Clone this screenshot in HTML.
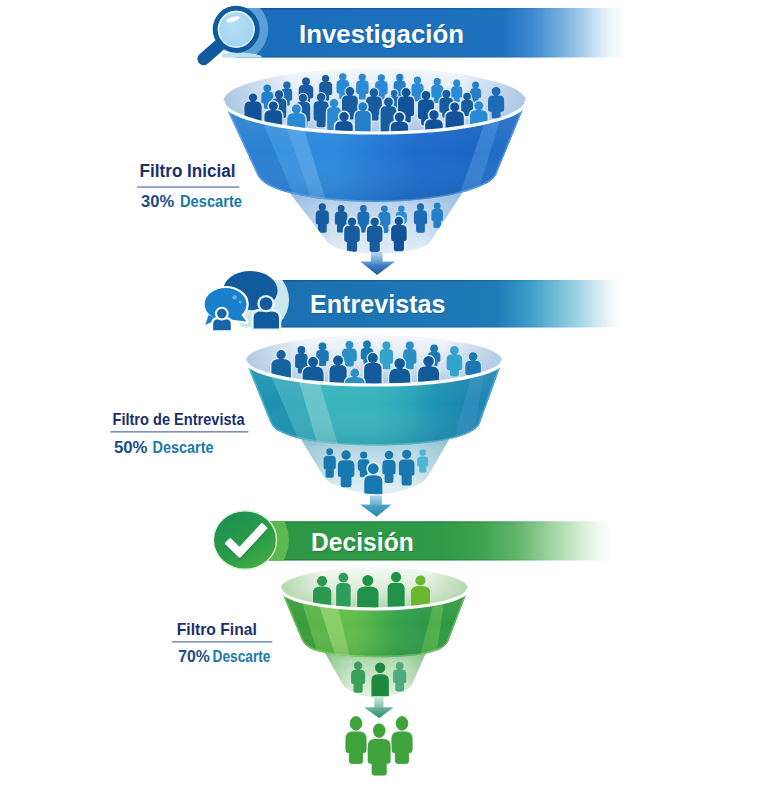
<!DOCTYPE html>
<html lang="es">
<head>
<meta charset="utf-8">
<title>Embudo de contratación</title>
<style>html,body{margin:0;padding:0;background:#fff;}body{width:768px;height:790px;overflow:hidden;font-family:"Liberation Sans",sans-serif;}svg{display:block;}</style>
</head>
<body>
<svg width="768" height="790" viewBox="0 0 768 790" font-family="'Liberation Sans', sans-serif">
<defs><linearGradient id="bedge" x1="0" y1="0" x2="1" y2="0"><stop offset="0" stop-color="#06305e" stop-opacity="0.3"/><stop offset="0.55" stop-color="#06305e" stop-opacity="0.25"/><stop offset="0.85" stop-color="#06305e" stop-opacity="0"/></linearGradient><linearGradient id="bedge3" x1="0" y1="0" x2="1" y2="0"><stop offset="0" stop-color="#0a4a1a" stop-opacity="0.3"/><stop offset="0.55" stop-color="#0a4a1a" stop-opacity="0.25"/><stop offset="0.85" stop-color="#0a4a1a" stop-opacity="0"/></linearGradient><linearGradient id="b1" gradientUnits="userSpaceOnUse" x1="246" y1="0" x2="626" y2="0"><stop offset="0.0" stop-color="#1a6db8"/><stop offset="0.676" stop-color="#1e72bd"/><stop offset="0.755" stop-color="#3d8ad0"/><stop offset="0.863" stop-color="#8fbfe6"/><stop offset="0.937" stop-color="#dcebf7"/><stop offset="0.968" stop-color="#f2f8fc"/><stop offset="1.0" stop-color="#ffffff"/></linearGradient><clipPath id="cban1"><rect x="222" y="8" width="420" height="49.5"/></clipPath><clipPath id="cban1b"><rect x="238" y="8" width="420" height="49.5"/></clipPath><radialGradient id="glass" cx="0.45" cy="0.40" r="0.75"><stop offset="0" stop-color="#b4def5"/><stop offset="1" stop-color="#9dd0ef"/></radialGradient><linearGradient id="fi1" x1="0" y1="0" x2="0" y2="1"><stop offset="0" stop-color="#f3f7fb"/><stop offset="0.55" stop-color="#dbe6f1"/><stop offset="1" stop-color="#a9c6e3"/></linearGradient><linearGradient id="fs1" x1="0" y1="0" x2="1" y2="0"><stop offset="0" stop-color="#a9c6e3" stop-opacity="0.95"/><stop offset="0.22" stop-color="#a9c6e3" stop-opacity="0"/><stop offset="0.78" stop-color="#a9c6e3" stop-opacity="0"/><stop offset="1" stop-color="#a9c6e3" stop-opacity="0.95"/></linearGradient><clipPath id="ci1"><ellipse cx="374.7" cy="100.6" rx="150.7" ry="31.4"/></clipPath><linearGradient id="fc1" x1="0" y1="0" x2="0" y2="1"><stop offset="0" stop-color="#8db6df"/><stop offset="0.3" stop-color="#bdd4eb"/><stop offset="1" stop-color="#e3edf7"/></linearGradient><clipPath id="cc1"><path d="M283,184L327.5,242Q332,248 346,250.5Q377,257 410,250.5Q424,248 429.5,243L468,184Z"/></clipPath><linearGradient id="fe1" gradientUnits="userSpaceOnUse" x1="296" y1="0" x2="460" y2="0"><stop offset="0" stop-color="#8db6df" stop-opacity="0.55"/><stop offset="0.22" stop-color="#8db6df" stop-opacity="0"/><stop offset="0.78" stop-color="#8db6df" stop-opacity="0"/><stop offset="1" stop-color="#8db6df" stop-opacity="0.55"/></linearGradient><linearGradient id="fb1" gradientUnits="userSpaceOnUse" x1="223.2" y1="0" x2="526.2" y2="0"><stop offset="0" stop-color="#2e8adc"/><stop offset="0.38" stop-color="#2d88dc"/><stop offset="0.5" stop-color="#2479d3"/><stop offset="0.64" stop-color="#1c6ccb"/><stop offset="0.85" stop-color="#1964c2"/><stop offset="1" stop-color="#1a63bd"/></linearGradient><linearGradient id="fv1" gradientUnits="userSpaceOnUse" x1="0" y1="101" x2="0" y2="204"><stop offset="0" stop-color="#ffffff" stop-opacity="0.1"/><stop offset="0.5" stop-color="#ffffff" stop-opacity="0"/><stop offset="1" stop-color="#00224a" stop-opacity="0.14"/></linearGradient><clipPath id="cb1"><path d="M223.2,101L257,174Q260,181 269,185.5C310,207 440,208.5 487,183Q495.5,178.5 497.5,171L526.2,101A151.5,32 0 0 1 223.2,101Z"/></clipPath><linearGradient id="ar1" gradientUnits="userSpaceOnUse" x1="0" y1="253" x2="0" y2="275"><stop offset="0" stop-color="#b4d3ee"/><stop offset="0.45" stop-color="#5a98d0"/><stop offset="0.55" stop-color="#3f80c2"/><stop offset="1" stop-color="#1a5aa0"/></linearGradient><linearGradient id="b2" gradientUnits="userSpaceOnUse" x1="262" y1="0" x2="624" y2="0"><stop offset="0.0" stop-color="#1b6fb2"/><stop offset="0.646" stop-color="#1f7ab8"/><stop offset="0.735" stop-color="#3a9cc8"/><stop offset="0.851" stop-color="#8ccbe0"/><stop offset="0.934" stop-color="#d8ecf5"/><stop offset="0.967" stop-color="#f2f9fc"/><stop offset="1.0" stop-color="#ffffff"/></linearGradient><clipPath id="cban2"><rect x="240" y="280" width="400" height="47.5"/></clipPath><linearGradient id="fi2" x1="0" y1="0" x2="0" y2="1"><stop offset="0" stop-color="#f3f7fb"/><stop offset="0.55" stop-color="#dbe6f1"/><stop offset="1" stop-color="#adc9e2"/></linearGradient><linearGradient id="fs2" x1="0" y1="0" x2="1" y2="0"><stop offset="0" stop-color="#adc9e2" stop-opacity="0.95"/><stop offset="0.22" stop-color="#adc9e2" stop-opacity="0"/><stop offset="0.78" stop-color="#adc9e2" stop-opacity="0"/><stop offset="1" stop-color="#adc9e2" stop-opacity="0.95"/></linearGradient><clipPath id="ci2"><ellipse cx="374" cy="360.1" rx="127.7" ry="23.9"/></clipPath><linearGradient id="fc2" x1="0" y1="0" x2="0" y2="1"><stop offset="0" stop-color="#86bccb"/><stop offset="0.3" stop-color="#b9d9e3"/><stop offset="1" stop-color="#e3f0f5"/></linearGradient><clipPath id="cc2"><path d="M296,431L323.4,476Q327.5,483 338,485.8Q375,502 411,487.5Q422.5,484 427,477.5L454,431Z"/></clipPath><linearGradient id="fe2" gradientUnits="userSpaceOnUse" x1="305" y1="0" x2="446" y2="0"><stop offset="0" stop-color="#86bccb" stop-opacity="0.55"/><stop offset="0.22" stop-color="#86bccb" stop-opacity="0"/><stop offset="0.78" stop-color="#86bccb" stop-opacity="0"/><stop offset="1" stop-color="#86bccb" stop-opacity="0.55"/></linearGradient><linearGradient id="fb2" gradientUnits="userSpaceOnUse" x1="245.5" y1="0" x2="502.5" y2="0"><stop offset="0" stop-color="#38b4bc"/><stop offset="0.5" stop-color="#36b3bc"/><stop offset="0.62" stop-color="#2ca8b9"/><stop offset="0.74" stop-color="#1d92b2"/><stop offset="0.88" stop-color="#1a83ad"/><stop offset="1" stop-color="#1a7ba7"/></linearGradient><linearGradient id="fv2" gradientUnits="userSpaceOnUse" x1="0" y1="360.5" x2="0" y2="448"><stop offset="0" stop-color="#ffffff" stop-opacity="0.1"/><stop offset="0.5" stop-color="#ffffff" stop-opacity="0"/><stop offset="1" stop-color="#003a4a" stop-opacity="0.14"/></linearGradient><clipPath id="cb2"><path d="M245.5,360.5L270.5,422.5Q273.5,429.5 283,433C315,449 430,450 466,434Q476,430 479.5,424L502.5,360.5A128.5,24.5 0 0 1 245.5,360.5Z"/></clipPath><linearGradient id="ar2" gradientUnits="userSpaceOnUse" x1="0" y1="493" x2="0" y2="517"><stop offset="0" stop-color="#c3e2ec"/><stop offset="0.45" stop-color="#6cb5d0"/><stop offset="0.55" stop-color="#4aa0c4"/><stop offset="1" stop-color="#2585b0"/></linearGradient><linearGradient id="b3" gradientUnits="userSpaceOnUse" x1="250" y1="0" x2="612" y2="0"><stop offset="0.0" stop-color="#2c9644"/><stop offset="0.525" stop-color="#2f9a47"/><stop offset="0.635" stop-color="#3ea24f"/><stop offset="0.738" stop-color="#62b56c"/><stop offset="0.845" stop-color="#a6d8a8"/><stop offset="0.931" stop-color="#e0f1e0"/><stop offset="0.967" stop-color="#f3faf3"/><stop offset="1.0" stop-color="#ffffff"/></linearGradient><clipPath id="cban3"><rect x="240" y="521.3" width="400" height="39.2"/></clipPath><linearGradient id="ck" x1="0.2" y1="0" x2="0.8" y2="1"><stop offset="0" stop-color="#1b8f52"/><stop offset="0.6" stop-color="#2a9c48"/><stop offset="1" stop-color="#45ad42"/></linearGradient><linearGradient id="fi3" x1="0" y1="0" x2="0" y2="1"><stop offset="0" stop-color="#f4f9f2"/><stop offset="0.55" stop-color="#dcebd8"/><stop offset="1" stop-color="#b2d6ae"/></linearGradient><linearGradient id="fs3" x1="0" y1="0" x2="1" y2="0"><stop offset="0" stop-color="#b2d6ae" stop-opacity="0.95"/><stop offset="0.22" stop-color="#b2d6ae" stop-opacity="0"/><stop offset="0.78" stop-color="#b2d6ae" stop-opacity="0"/><stop offset="1" stop-color="#b2d6ae" stop-opacity="0.95"/></linearGradient><clipPath id="ci3"><ellipse cx="374.3" cy="588.1" rx="93.2" ry="19.9"/></clipPath><linearGradient id="fc3" x1="0" y1="0" x2="0" y2="1"><stop offset="0" stop-color="#7fbf82"/><stop offset="0.3" stop-color="#b6dcb4"/><stop offset="1" stop-color="#e4f2e2"/></linearGradient><clipPath id="cc3"><path d="M321,646L342.5,683.75Q345.5,690 358,694Q377,701.6 398,693.5Q409,690 412.2,683.75L429,646Z"/></clipPath><linearGradient id="fe3" gradientUnits="userSpaceOnUse" x1="328" y1="0" x2="424" y2="0"><stop offset="0" stop-color="#7fbf82" stop-opacity="0.55"/><stop offset="0.22" stop-color="#7fbf82" stop-opacity="0"/><stop offset="0.78" stop-color="#7fbf82" stop-opacity="0"/><stop offset="1" stop-color="#7fbf82" stop-opacity="0.55"/></linearGradient><linearGradient id="fb3" gradientUnits="userSpaceOnUse" x1="280.3" y1="0" x2="468.3" y2="0"><stop offset="0" stop-color="#62bd4b"/><stop offset="0.4" stop-color="#60bc4a"/><stop offset="0.5" stop-color="#4db04a"/><stop offset="0.62" stop-color="#35a24a"/><stop offset="0.82" stop-color="#2a9648"/><stop offset="1" stop-color="#2d9644"/></linearGradient><linearGradient id="fv3" gradientUnits="userSpaceOnUse" x1="0" y1="588.5" x2="0" y2="660"><stop offset="0" stop-color="#ffffff" stop-opacity="0.1"/><stop offset="0.5" stop-color="#ffffff" stop-opacity="0"/><stop offset="1" stop-color="#0a4a10" stop-opacity="0.14"/></linearGradient><clipPath id="cb3"><path d="M280.3,588.5L301.9,640Q304.5,646 313,649.5C335,659 415,660.5 439,649.4Q446,646 448.1,641.6L468.3,588.5A94,20.5 0 0 1 280.3,588.5Z"/></clipPath><linearGradient id="ar3" gradientUnits="userSpaceOnUse" x1="0" y1="697" x2="0" y2="718"><stop offset="0" stop-color="#cfe9dc"/><stop offset="0.45" stop-color="#86c6ae"/><stop offset="0.55" stop-color="#62b098"/><stop offset="1" stop-color="#2f9078"/></linearGradient></defs>
<rect width="768" height="790" fill="#ffffff"/>
<g id="banner1">
<rect x="236" y="8" width="390" height="49.5" fill="url(#b1)"/>
<rect x="236" y="8" width="386" height="1.6" fill="url(#bedge)"/>
<rect x="236" y="56.3" width="386" height="1.2" fill="url(#bedge)"/>
<g clip-path="url(#cban1b)"><circle cx="236.2" cy="29.3" r="32" fill="#5a9fdb"/></g>
<g clip-path="url(#cban1)"><ellipse cx="238" cy="57.5" rx="24" ry="5" fill="#bfe0f0"/></g>
<text x="299" y="43" font-size="25.5" font-weight="700" fill="#0d4d8c" opacity="0.55" textLength="165" lengthAdjust="spacingAndGlyphs" transform="translate(0.8,1.3)">Investigación</text>
<text x="299" y="43" font-size="25.5" font-weight="700" fill="#ffffff" textLength="165" lengthAdjust="spacingAndGlyphs">Investigación</text>
<line x1="219" y1="45.5" x2="203.6" y2="59" stroke="#0f5a9e" stroke-width="12.4" stroke-linecap="round"/>
<circle cx="236.2" cy="29.3" r="21" fill="url(#glass)" stroke="#0f5a9e" stroke-width="5"/>
<circle cx="236.2" cy="29.3" r="17.8" fill="none" stroke="#e6f5fc" stroke-width="1.3"/>
<ellipse cx="233" cy="19.3" rx="7" ry="2.3" fill="#ffffff" opacity="0.92" transform="rotate(-18 233 19.3)"/>
</g>
<g id="funnel1">
<ellipse cx="374.7" cy="101" rx="151.5" ry="32" fill="#ffffff" stroke="#eef3f8" stroke-width="1"/>
<ellipse cx="374.7" cy="100.6" rx="150.7" ry="31.4" fill="url(#fi1)"/>
<ellipse cx="374.7" cy="100.6" rx="150.7" ry="31.4" fill="url(#fs1)"/>
<g clip-path="url(#ci1)">
<path fill="#2380c8" stroke="#cde0f0" stroke-width="1.0" paint-order="stroke" d="M261.3,101.9L261.3,95.5Q261.3,91.7 265.1,91.7L269.5,91.7Q273.3,91.7 273.3,95.5L273.3,101.9Q273.3,103.6 271.6,103.6L270.6,103.6L270.6,107.4Q270.6,108.7 269.3,108.7L265.3,108.7Q264,108.7 264,107.4L264,103.6L263,103.6Q261.3,103.6 261.3,101.9ZM263.5,88.2A3.8,3.8 0 1 1 271.1,88.2A3.8,3.8 0 1 1 263.5,88.2Z"/>
<path fill="#1c6cb4" stroke="#cde0f0" stroke-width="1.0" paint-order="stroke" d="M281.6,98.9L281.6,91.9Q281.6,88.5 285,88.5L288.8,88.5Q292.1,88.5 292.1,91.9L292.1,98.9Q292.1,100.4 290.7,100.4L289.8,100.4L289.8,104.3Q289.8,105.5 288.6,105.5L285.2,105.5Q284,105.5 284,104.3L284,100.4L283.1,100.4Q281.6,100.4 281.6,98.9ZM283.2,85.1A3.7,3.7 0 1 1 290.6,85.1A3.7,3.7 0 1 1 283.2,85.1Z"/>
<path fill="#165c9f" stroke="#cde0f0" stroke-width="1.0" paint-order="stroke" d="M298.8,96.4L298.8,89.7Q298.8,85.1 303.4,85.1L308.6,85.1Q313.2,85.1 313.2,89.7L313.2,96.4Q313.2,98.4 311.2,98.4L310,98.4L310,102.5Q310,104.1 308.4,104.1L303.6,104.1Q302,104.1 302,102.5L302,98.4L300.8,98.4Q298.8,98.4 298.8,96.4ZM302.1,81.5A3.9,3.9 0 1 1 309.9,81.5A3.9,3.9 0 1 1 302.1,81.5Z"/>
<path fill="#165c9f" stroke="#cde0f0" stroke-width="1.0" paint-order="stroke" d="M319.2,93.3L319.2,85.9Q319.2,81.8 323.3,81.8L327.9,81.8Q332.1,81.8 332.1,85.9L332.1,93.3Q332.1,95.1 330.2,95.1L329.1,95.1L329.1,99.4Q329.1,100.8 327.7,100.8L323.5,100.8Q322.1,100.8 322.1,99.4L322.1,95.1L321,95.1Q319.2,95.1 319.2,93.3ZM322,78.5A3.6,3.6 0 1 1 329.2,78.5A3.6,3.6 0 1 1 322,78.5Z"/>
<path fill="#2a8ad4" stroke="#cde0f0" stroke-width="1.0" paint-order="stroke" d="M336.6,91.6L336.6,84.1Q336.6,80.1 340.6,80.1L345.1,80.1Q349.1,80.1 349.1,84.1L349.1,91.6Q349.1,93.4 347.3,93.4L346.2,93.4L346.2,97.7Q346.2,99.1 344.9,99.1L340.7,99.1Q339.4,99.1 339.4,97.7L339.4,93.4L338.3,93.4Q336.6,93.4 336.6,91.6ZM339.2,76.8A3.6,3.6 0 1 1 346.4,76.8A3.6,3.6 0 1 1 339.2,76.8Z"/>
<path fill="#2a8ad4" stroke="#cde0f0" stroke-width="1.0" paint-order="stroke" d="M356.1,92.1L356.1,84.6Q356.1,80.6 360.1,80.6L364.6,80.6Q368.6,80.6 368.6,84.6L368.6,92.1Q368.6,93.9 366.8,93.9L365.7,93.9L365.7,98.2Q365.7,99.6 364.4,99.6L360.2,99.6Q358.9,99.6 358.9,98.2L358.9,93.9L357.8,93.9Q356.1,93.9 356.1,92.1ZM358.7,77.3A3.6,3.6 0 1 1 365.9,77.3A3.6,3.6 0 1 1 358.7,77.3Z"/>
<path fill="#2a8ad4" stroke="#cde0f0" stroke-width="1.0" paint-order="stroke" d="M375.1,92.6L375.1,85.1Q375.1,81.1 379.1,81.1L383.6,81.1Q387.6,81.1 387.6,85.1L387.6,92.6Q387.6,94.4 385.8,94.4L384.7,94.4L384.7,98.7Q384.7,100.1 383.4,100.1L379.2,100.1Q377.9,100.1 377.9,98.7L377.9,94.4L376.8,94.4Q375.1,94.4 375.1,92.6ZM377.7,77.8A3.6,3.6 0 1 1 384.9,77.8A3.6,3.6 0 1 1 377.7,77.8Z"/>
<path fill="#2380c8" stroke="#cde0f0" stroke-width="1.0" paint-order="stroke" d="M393.7,92.3L393.7,84.5Q393.7,80.7 397.5,80.7L401.9,80.7Q405.7,80.7 405.7,84.5L405.7,92.3Q405.7,94 404,94L403,94L403,98.4Q403,99.7 401.7,99.7L397.7,99.7Q396.4,99.7 396.4,98.4L396.4,94L395.4,94Q393.7,94 393.7,92.3ZM396.1,77.4A3.6,3.6 0 1 1 403.3,77.4A3.6,3.6 0 1 1 396.1,77.4Z"/>
<path fill="#2a8ad4" stroke="#cde0f0" stroke-width="1.0" paint-order="stroke" d="M411.5,94.4L411.5,87.3Q411.5,83.5 415.3,83.5L419.7,83.5Q423.5,83.5 423.5,87.3L423.5,94.4Q423.5,96.1 421.8,96.1L420.8,96.1L420.8,100.2Q420.8,101.5 419.5,101.5L415.5,101.5Q414.2,101.5 414.2,100.2L414.2,96.1L413.2,96.1Q411.5,96.1 411.5,94.4ZM413.9,80.2A3.6,3.6 0 1 1 421.1,80.2A3.6,3.6 0 1 1 413.9,80.2Z"/>
<path fill="#2a8ad4" stroke="#cde0f0" stroke-width="1.0" paint-order="stroke" d="M431.3,96L431.3,88.7Q431.3,85 435.1,85L439.3,85Q443.1,85 443.1,88.7L443.1,96Q443.1,97.6 441.4,97.6L440.4,97.6L440.4,101.7Q440.4,103 439.1,103L435.3,103Q434,103 434,101.7L434,97.6L433,97.6Q431.3,97.6 431.3,96ZM433.6,81.7A3.6,3.6 0 1 1 440.8,81.7A3.6,3.6 0 1 1 433.6,81.7Z"/>
<path fill="#2a8ad4" stroke="#cde0f0" stroke-width="1.0" paint-order="stroke" d="M451.2,95.9L451.2,89.7Q451.2,86.2 454.7,86.2L458.7,86.2Q462.2,86.2 462.2,89.7L462.2,95.9Q462.2,97.4 460.7,97.4L459.7,97.4L459.7,101Q459.7,102.2 458.5,102.2L454.9,102.2Q453.7,102.2 453.7,101L453.7,97.4L452.7,97.4Q451.2,97.4 451.2,95.9ZM453.2,83A3.5,3.5 0 1 1 460.2,83A3.5,3.5 0 1 1 453.2,83Z"/>
<path fill="#2380c8" stroke="#cde0f0" stroke-width="1.0" paint-order="stroke" d="M470.1,96.5L470.1,91.7Q470.1,88.2 473.6,88.2L477.6,88.2Q481.1,88.2 481.1,91.7L481.1,96.5Q481.1,98 479.6,98L478.6,98L478.6,101Q478.6,102.2 477.4,102.2L473.8,102.2Q472.6,102.2 472.6,101L472.6,98L471.6,98Q470.1,98 470.1,96.5ZM472.1,85A3.5,3.5 0 1 1 479.1,85A3.5,3.5 0 1 1 472.1,85Z"/>
<path fill="#1c6cb4" stroke="#cde0f0" stroke-width="1.0" paint-order="stroke" d="M488,109.4L488,100.8Q488,95.6 493.2,95.6L499,95.6Q504.2,95.6 504.2,100.8L504.2,109.4Q504.2,111.7 502,111.7L500.6,111.7L500.6,116.8Q500.6,118.6 498.8,118.6L493.4,118.6Q491.6,118.6 491.6,116.8L491.6,111.7L490.2,111.7Q488,111.7 488,109.4ZM491.6,91.4A4.5,4.5 0 1 1 500.6,91.4A4.5,4.5 0 1 1 491.6,91.4Z"/>
<path fill="#12529a" stroke="#d3e5f4" stroke-width="2.2" paint-order="stroke" d="M244.4,121.6L244.4,107Q244.4,101.5 249.9,101.5L256.1,101.5Q261.6,101.5 261.6,107L261.6,121.6Q261.6,124 259.2,124L258.2,124L258.2,129.4Q258.2,131.5 256.1,131.5L249.9,131.5Q247.8,131.5 247.8,129.4L247.8,124L246.8,124Q244.4,124 244.4,121.6ZM248.8,97.6A4.2,4.2 0 1 1 257.2,97.6A4.2,4.2 0 1 1 248.8,97.6Z"/>
<path fill="#165c9f" stroke="#d3e5f4" stroke-width="2.2" paint-order="stroke" d="M271.8,115.9L271.8,103Q271.8,98.4 276.4,98.4L281.6,98.4Q286.2,98.4 286.2,103L286.2,115.9Q286.2,117.9 284.2,117.9L283.4,117.9L283.4,122.7Q283.4,124.4 281.6,124.4L276.4,124.4Q274.6,124.4 274.6,122.7L274.6,117.9L273.8,117.9Q271.8,117.9 271.8,115.9ZM274.8,94.5A4.2,4.2 0 1 1 283.2,94.5A4.2,4.2 0 1 1 274.8,94.5Z"/>
<path fill="#165c9f" stroke="#d3e5f4" stroke-width="2.2" paint-order="stroke" d="M295.8,119.4L295.8,106.5Q295.8,101.9 300.4,101.9L305.6,101.9Q310.2,101.9 310.2,106.5L310.2,119.4Q310.2,121.4 308.2,121.4L307.4,121.4L307.4,126.2Q307.4,127.9 305.6,127.9L300.4,127.9Q298.6,127.9 298.6,126.2L298.6,121.4L297.8,121.4Q295.8,121.4 295.8,119.4ZM298.8,98A4.2,4.2 0 1 1 307.2,98A4.2,4.2 0 1 1 298.8,98Z"/>
<path fill="#165c9f" stroke="#d3e5f4" stroke-width="2.2" paint-order="stroke" d="M313.6,118.6L313.6,106Q313.6,101.2 318.4,101.2L323.8,101.2Q328.6,101.2 328.6,106L328.6,118.6Q328.6,120.7 326.5,120.7L325.6,120.7L325.6,125.4Q325.6,127.2 323.8,127.2L318.4,127.2Q316.6,127.2 316.6,125.4L316.6,120.7L315.7,120.7Q313.6,120.7 313.6,118.6ZM316.9,97.3A4.2,4.2 0 1 1 325.3,97.3A4.2,4.2 0 1 1 316.9,97.3Z"/>
<path fill="#165c9f" stroke="#d3e5f4" stroke-width="2.2" paint-order="stroke" d="M342,111.2L342,100.5Q342,95.4 347.1,95.4L352.7,95.4Q357.8,95.4 357.8,100.5L357.8,111.2Q357.8,113.4 355.6,113.4L354.6,113.4L354.6,117.5Q354.6,119.4 352.7,119.4L347.1,119.4Q345.2,119.4 345.2,117.5L345.2,113.4L344.2,113.4Q342,113.4 342,111.2ZM345.6,91.4A4.3,4.3 0 1 1 354.2,91.4A4.3,4.3 0 1 1 345.6,91.4Z"/>
<path fill="#165c9f" stroke="#d3e5f4" stroke-width="2.2" paint-order="stroke" d="M366,112.4L366,101.7Q366,96.6 371.1,96.6L376.7,96.6Q381.8,96.6 381.8,101.7L381.8,112.4Q381.8,114.6 379.6,114.6L378.6,114.6L378.6,118.7Q378.6,120.6 376.7,120.6L371.1,120.6Q369.2,120.6 369.2,118.7L369.2,114.6L368.2,114.6Q366,114.6 366,112.4ZM369.6,92.6A4.3,4.3 0 1 1 378.2,92.6A4.3,4.3 0 1 1 369.6,92.6Z"/>
<path fill="#1c6cb4" stroke="#d3e5f4" stroke-width="2.2" paint-order="stroke" d="M388.9,108.2L388.9,99.6Q388.9,96.2 392.3,96.2L396.1,96.2Q399.4,96.2 399.4,99.6L399.4,108.2Q399.4,109.7 398,109.7L397.3,109.7L397.3,112.9Q397.3,114.2 396.1,114.2L392.3,114.2Q391.1,114.2 391.1,112.9L391.1,109.7L390.4,109.7Q388.9,109.7 388.9,108.2ZM390.9,93.2A3.3,3.3 0 1 1 397.5,93.2A3.3,3.3 0 1 1 390.9,93.2Z"/>
<path fill="#12529a" stroke="#d3e5f4" stroke-width="2.2" paint-order="stroke" d="M398,113.9L398,101.7Q398,96.6 403.1,96.6L408.9,96.6Q414,96.6 414,101.7L414,113.9Q414,116.1 411.8,116.1L410.8,116.1L410.8,120.7Q410.8,122.6 408.9,122.6L403.1,122.6Q401.2,122.6 401.2,120.7L401.2,116.1L400.2,116.1Q398,116.1 398,113.9ZM401.6,92.5A4.4,4.4 0 1 1 410.4,92.5A4.4,4.4 0 1 1 401.6,92.5Z"/>
<path fill="#12529a" stroke="#d3e5f4" stroke-width="2.2" paint-order="stroke" d="M418,116.8L418,104.6Q418,99.5 423.1,99.5L428.9,99.5Q434,99.5 434,104.6L434,116.8Q434,119 431.8,119L430.8,119L430.8,123.6Q430.8,125.5 428.9,125.5L423.1,125.5Q421.2,125.5 421.2,123.6L421.2,119L420.2,119Q418,119 418,116.8ZM421.6,95.4A4.4,4.4 0 1 1 430.4,95.4A4.4,4.4 0 1 1 421.6,95.4Z"/>
<path fill="#165c9f" stroke="#d3e5f4" stroke-width="2.2" paint-order="stroke" d="M439.4,110.8L439.4,102.1Q439.4,97.7 443.8,97.7L448.8,97.7Q453.2,97.7 453.2,102.1L453.2,110.8Q453.2,112.7 451.2,112.7L450.4,112.7L450.4,116.1Q450.4,117.7 448.8,117.7L443.8,117.7Q442.2,117.7 442.2,116.1L442.2,112.7L441.4,112.7Q439.4,112.7 439.4,110.8ZM442.3,94A4,4 0 1 1 450.3,94A4,4 0 1 1 442.3,94Z"/>
<path fill="#165c9f" stroke="#d3e5f4" stroke-width="2.2" paint-order="stroke" d="M461.2,110.5L461.2,103.8Q461.2,100.1 465,100.1L469.2,100.1Q473,100.1 473,103.8L473,110.5Q473,112.1 471.3,112.1L470.6,112.1L470.6,114.7Q470.6,116.1 469.2,116.1L465,116.1Q463.6,116.1 463.6,114.7L463.6,112.1L462.9,112.1Q461.2,112.1 461.2,110.5ZM463.3,96.6A3.8,3.8 0 1 1 470.9,96.6A3.8,3.8 0 1 1 463.3,96.6Z"/>
<path fill="#12529a" stroke="#d9eaf7" stroke-width="2.8" paint-order="stroke" d="M264.4,138.1L264.4,116.1Q264.4,110.1 271.5,110.1L275.1,110.1Q282.2,110.1 282.2,116.1L282.2,138.1ZM268.8,106A4.5,4.5 0 1 1 277.8,106A4.5,4.5 0 1 1 268.8,106Z"/>
<path fill="#2a8ad4" stroke="#d9eaf7" stroke-width="2.8" paint-order="stroke" d="M287.2,141.1L287.2,119.3Q287.2,113.1 294.5,113.1L298.1,113.1Q305.4,113.1 305.4,119.3L305.4,141.1ZM291.8,109A4.5,4.5 0 1 1 300.8,109A4.5,4.5 0 1 1 291.8,109Z"/>
<path fill="#2a8ad4" stroke="#d9eaf7" stroke-width="2.8" paint-order="stroke" d="M327.2,137.1L327.2,111.7Q327.2,107.1 332.6,107.1L335.4,107.1Q340.8,107.1 340.8,111.7L340.8,137.1ZM329.7,103.2A4.3,4.3 0 1 1 338.3,103.2A4.3,4.3 0 1 1 329.7,103.2Z"/>
<path fill="#2380c8" stroke="#d9eaf7" stroke-width="2.8" paint-order="stroke" d="M354.9,138.8L354.9,116.2Q354.9,110.8 361.2,110.8L364.4,110.8Q370.7,110.8 370.7,116.2L370.7,138.8ZM358.3,106.7A4.5,4.5 0 1 1 367.3,106.7A4.5,4.5 0 1 1 358.3,106.7Z"/>
<path fill="#165c9f" stroke="#d9eaf7" stroke-width="2.8" paint-order="stroke" d="M380.6,136.1L380.6,111.5Q380.6,106.1 386.9,106.1L390.1,106.1Q396.4,106.1 396.4,111.5L396.4,136.1ZM384,102A4.5,4.5 0 1 1 393,102A4.5,4.5 0 1 1 384,102Z"/>
<path fill="#12529a" stroke="#d9eaf7" stroke-width="2.8" paint-order="stroke" d="M445.6,139.2L445.6,117.4Q445.6,111.2 452.9,111.2L456.5,111.2Q463.8,111.2 463.8,117.4L463.8,139.2ZM450.1,107A4.6,4.6 0 1 1 459.3,107A4.6,4.6 0 1 1 450.1,107Z"/>
<path fill="#2a8ad4" stroke="#d9eaf7" stroke-width="2.8" paint-order="stroke" d="M470,137.9L470,115.9Q470,109.9 477,109.9L480.6,109.9Q487.6,109.9 487.6,115.9L487.6,137.9ZM474.3,105.8A4.5,4.5 0 1 1 483.3,105.8A4.5,4.5 0 1 1 474.3,105.8Z"/>
<path fill="#12529a" stroke="#e1eefa" stroke-width="3.0" paint-order="stroke" d="M335.2,145L335.2,127Q335.2,121 342.2,121L345.8,121Q352.8,121 352.8,127L352.8,145ZM339.3,116.7A4.7,4.7 0 1 1 348.7,116.7A4.7,4.7 0 1 1 339.3,116.7Z"/>
<path fill="#12529a" stroke="#e1eefa" stroke-width="3.0" paint-order="stroke" d="M390.7,145.5L390.7,127.5Q390.7,121.5 397.7,121.5L401.3,121.5Q408.3,121.5 408.3,127.5L408.3,145.5ZM394.8,117.2A4.7,4.7 0 1 1 404.2,117.2A4.7,4.7 0 1 1 394.8,117.2Z"/>
<path fill="#12529a" stroke="#e1eefa" stroke-width="3.0" paint-order="stroke" d="M425.1,143.2L425.1,125.2Q425.1,119.2 432.1,119.2L435.7,119.2Q442.7,119.2 442.7,125.2L442.7,143.2ZM429.2,114.9A4.7,4.7 0 1 1 438.6,114.9A4.7,4.7 0 1 1 429.2,114.9Z"/>
</g>
<path d="M283,184L327.5,242Q332,248 346,250.5Q377,257 410,250.5Q424,248 429.5,243L468,184Z" fill="url(#fc1)"/>
<path d="M283,184L327.5,242Q332,248 346,250.5Q377,257 410,250.5Q424,248 429.5,243L468,184Z" fill="url(#fe1)"/>
<g clip-path="url(#cc1)">
<path fill="#165c9f" d="M315.7,222.3L315.7,214.5Q315.7,210.2 319.9,210.2L324.7,210.2Q328.9,210.2 328.9,214.5L328.9,222.3Q328.9,224.2 327.1,224.2L326.7,224.2L326.7,231Q326.7,232.8 324.9,232.8L319.7,232.8Q317.9,232.8 317.9,231L317.9,224.2L317.5,224.2Q315.7,224.2 315.7,222.3ZM318.7,206.9A3.6,3.6 0 1 1 325.9,206.9A3.6,3.6 0 1 1 318.7,206.9Z"/>
<path fill="#165c9f" d="M334.9,222.9L334.9,215.6Q334.9,211.6 338.9,211.6L343.4,211.6Q347.4,211.6 347.4,215.6L347.4,222.9Q347.4,224.6 345.6,224.6L345.2,224.6L345.2,230.9Q345.2,232.6 343.6,232.6L338.6,232.6Q337,232.6 337,230.9L337,224.6L336.6,224.6Q334.9,224.6 334.9,222.9ZM337.6,208.4A3.5,3.5 0 1 1 344.6,208.4A3.5,3.5 0 1 1 337.6,208.4Z"/>
<path fill="#1c6cb4" d="M357.4,222.8L357.4,215.3Q357.4,211.5 361.2,211.5L365.6,211.5Q369.4,211.5 369.4,215.3L369.4,222.8Q369.4,224.5 367.7,224.5L367.4,224.5L367.4,230.9Q367.4,232.5 365.8,232.5L361,232.5Q359.4,232.5 359.4,230.9L359.4,224.5L359.1,224.5Q357.4,224.5 357.4,222.8ZM360,208.4A3.4,3.4 0 1 1 366.8,208.4A3.4,3.4 0 1 1 360,208.4Z"/>
<path fill="#2380c8" d="M378.4,223.2L378.4,215.7Q378.4,211.9 382.2,211.9L386.6,211.9Q390.4,211.9 390.4,215.7L390.4,223.2Q390.4,224.9 388.7,224.9L388.4,224.9L388.4,231.3Q388.4,232.9 386.8,232.9L382,232.9Q380.4,232.9 380.4,231.3L380.4,224.9L380.1,224.9Q378.4,224.9 378.4,223.2ZM381,208.8A3.4,3.4 0 1 1 387.8,208.8A3.4,3.4 0 1 1 381,208.8Z"/>
<path fill="#2a8ad4" d="M395.8,221.4L395.8,215.3Q395.8,211.8 399.3,211.8L403.3,211.8Q406.8,211.8 406.8,215.3L406.8,221.4Q406.8,223 405.3,223L404.9,223L404.9,228.3Q404.9,229.8 403.5,229.8L399.1,229.8Q397.7,229.8 397.7,228.3L397.7,223L397.3,223Q395.8,223 395.8,221.4ZM398,208.8A3.3,3.3 0 1 1 404.6,208.8A3.3,3.3 0 1 1 398,208.8Z"/>
<path fill="#1c6cb4" d="M413.9,222.3L413.9,214.5Q413.9,210.2 418.1,210.2L422.9,210.2Q427.1,210.2 427.1,214.5L427.1,222.3Q427.1,224.2 425.3,224.2L424.9,224.2L424.9,231Q424.9,232.8 423.1,232.8L417.9,232.8Q416.1,232.8 416.1,231L416.1,224.2L415.7,224.2Q413.9,224.2 413.9,222.3ZM416.9,206.9A3.6,3.6 0 1 1 424.1,206.9A3.6,3.6 0 1 1 416.9,206.9Z"/>
<path fill="#2380c8" d="M431.4,219.3L431.4,212.8Q431.4,209.1 435.1,209.1L439.3,209.1Q442.9,209.1 442.9,212.8L442.9,219.3Q442.9,220.9 441.3,220.9L441,220.9L441,226.6Q441,228.1 439.5,228.1L434.9,228.1Q433.4,228.1 433.4,226.6L433.4,220.9L433.1,220.9Q431.4,220.9 431.4,219.3ZM433.8,206A3.4,3.4 0 1 1 440.6,206A3.4,3.4 0 1 1 433.8,206Z"/>
<path fill="#165c9f" stroke="#e4f0fa" stroke-width="2.8" paint-order="stroke" d="M344.2,239.8L344.2,230.7Q344.2,225.7 349.2,225.7L354.8,225.7Q359.8,225.7 359.8,230.7L359.8,239.8Q359.8,241.9 357.6,241.9L357.1,241.9L357.1,249.8Q357.1,251.9 355.1,251.9L348.9,251.9Q346.9,251.9 346.9,249.8L346.9,241.9L346.4,241.9Q344.2,241.9 344.2,239.8ZM347.7,221.7A4.3,4.3 0 1 1 356.3,221.7A4.3,4.3 0 1 1 347.7,221.7Z"/>
<path fill="#165c9f" stroke="#e4f0fa" stroke-width="2.8" paint-order="stroke" d="M366.9,239.8L366.9,230.7Q366.9,225.7 371.9,225.7L377.5,225.7Q382.5,225.7 382.5,230.7L382.5,239.8Q382.5,241.9 380.3,241.9L379.8,241.9L379.8,249.8Q379.8,251.9 377.8,251.9L371.6,251.9Q369.6,251.9 369.6,249.8L369.6,241.9L369.1,241.9Q366.9,241.9 366.9,239.8ZM370.4,221.7A4.3,4.3 0 1 1 379,221.7A4.3,4.3 0 1 1 370.4,221.7Z"/>
<path fill="#12529a" stroke="#e4f0fa" stroke-width="2.8" paint-order="stroke" d="M391.1,239.1L391.1,230Q391.1,225 396.1,225L401.7,225Q406.7,225 406.7,230L406.7,239.1Q406.7,241.2 404.5,241.2L404,241.2L404,249.1Q404,251.2 402,251.2L395.8,251.2Q393.8,251.2 393.8,249.1L393.8,241.2L393.3,241.2Q391.1,241.2 391.1,239.1ZM394.6,221A4.3,4.3 0 1 1 403.2,221A4.3,4.3 0 1 1 394.6,221Z"/>
</g>
<path d="M223.2,101L257,174Q260,181 269,185.5C310,207 440,208.5 487,183Q495.5,178.5 497.5,171L526.2,101A151.5,32 0 0 1 223.2,101Z" fill="url(#fb1)"/>
<g clip-path="url(#cb1)">
<polygon points="215,101 253.6,101 297.8,205 215,205" fill="#2a80d2" opacity="1"/>
<polygon points="253.6,101 277.2,101 313.1,205 297.8,205" fill="#3a92de" opacity="1"/>
<polygon points="277.2,101 295.7,101 327.2,205 313.1,205" fill="#4fa0e5" opacity="1"/>
<polygon points="492,101 506,101 474.5,205 456,205" fill="#3580d2" opacity="1"/>
<polygon points="506,101 535,101 505,205 474.5,205" fill="#206cc6" opacity="1"/>
<rect x="223.2" y="101" width="303.0" height="103" fill="url(#fv1)"/>
<path d="M223.2,101L257,174Q260,181 269,185.5C310,207 440,208.5 487,183Q495.5,178.5 497.5,171L526.2,101" fill="none" stroke="#8cc8f4" stroke-opacity="0.4" stroke-width="3"/>
</g>
<path d="M223.2,101A151.5,32 0 0 0 526.2,101" fill="none" stroke="#ffffff" stroke-width="3.2"/>
<path d="M371,252L382.6,252L382.6,261.5L395,261.5L377,275L360.3,261.5L371,261.5Z" fill="url(#ar1)"/>
</g>
<text x="139.6" y="177.2" font-size="17.5" font-weight="700" fill="#1b2f6d" textLength="96" lengthAdjust="spacingAndGlyphs">Filtro Inicial</text>
<rect x="137.2" y="186.4" width="102.10000000000002" height="1.3" fill="#5b7bb0"/>
<text y="207.2" font-size="16.2" font-weight="700"><tspan x="141.1" fill="#1d4c85" textLength="33" lengthAdjust="spacingAndGlyphs">30%</tspan><tspan x="180" fill="#1a7aa9" textLength="62" lengthAdjust="spacingAndGlyphs">Descarte</tspan></text>
<g id="banner2">
<rect x="262" y="280" width="362" height="47.5" fill="url(#b2)"/>
<rect x="262" y="280" width="358" height="1.6" fill="url(#bedge)"/>
<rect x="262" y="326.3" width="358" height="1.2" fill="url(#bedge)"/>
<g clip-path="url(#cban2)"><ellipse cx="258" cy="300" rx="31" ry="32" fill="#cbe8ee"/></g>
<text x="310" y="313" font-size="25" font-weight="700" fill="#0d4d8c" opacity="0.55" textLength="135.5" lengthAdjust="spacingAndGlyphs" transform="translate(0.8,1.3)">Entrevistas</text>
<text x="310" y="313" font-size="25" font-weight="700" fill="#ffffff" textLength="135.5" lengthAdjust="spacingAndGlyphs">Entrevistas</text>
<ellipse cx="250.3" cy="290.6" rx="27.3" ry="19.5" fill="#125a9e"/>
<path d="M236,303L232,314L250,308Z" fill="#125a9e"/>
<path fill="#1b80cc" stroke="#ffffff" stroke-width="4.4" stroke-linejoin="round" paint-order="stroke" d="M204.6,304.3A21,16.2 0 1 1 246.6,304.3A21,16.2 0 1 1 204.6,304.3ZM208.5,315L217,319.5L205.2,325Z M240.5,313.5L246.4,321.6L232,319.8Z"/>
<circle cx="234.5" cy="297.3" r="2.2" fill="#5fb8ee"/><circle cx="240.2" cy="302" r="1.5" fill="#5fb8ee"/>
<g fill="#1565a8" stroke="#ffffff" stroke-width="4.2" paint-order="stroke"><path d="M213.2,330.3L213.2,324Q213.2,319.2 218,319.2L226,319.2Q230.8,319.2 230.8,324L230.8,330.3Z"/><circle cx="221.8" cy="313.6" r="4.8"/></g>
<g fill="#125a9e" stroke="#e9f5f8" stroke-width="4.6" paint-order="stroke"><path d="M253.6,328.4L253.6,318Q253.6,311.4 260.5,311.4L272,311.4Q279,311.4 279,318L279,328.4Z"/><circle cx="266" cy="303.6" r="6.4"/></g>
</g>
<g id="funnel2">
<ellipse cx="374" cy="360.5" rx="128.5" ry="24.5" fill="#ffffff" stroke="#eef3f8" stroke-width="1"/>
<ellipse cx="374" cy="360.1" rx="127.7" ry="23.9" fill="url(#fi2)"/>
<ellipse cx="374" cy="360.1" rx="127.7" ry="23.9" fill="url(#fs2)"/>
<g clip-path="url(#ci2)">
<path fill="#16649f" stroke="#d8e8f3" stroke-width="1.4" paint-order="stroke" d="M295.1,366.2L295.1,357.6Q295.1,353.6 299.1,353.6L303.6,353.6Q307.6,353.6 307.6,357.6L307.6,366.2Q307.6,368 305.9,368L305,368L305,372.1Q305,373.6 303.6,373.6L299.2,373.6Q297.8,373.6 297.8,372.1L297.8,368L296.9,368Q295.1,368 295.1,366.2ZM297.5,350A3.9,3.9 0 1 1 305.3,350A3.9,3.9 0 1 1 297.5,350Z"/>
<path fill="#1b78b4" stroke="#d8e8f3" stroke-width="1.4" paint-order="stroke" d="M316.2,359.8L316.2,354Q316.2,350 320.2,350L324.8,350Q328.8,350 328.8,354L328.8,359.8Q328.8,361.5 327,361.5L326.1,361.5L326.1,364.5Q326.1,366 324.7,366L320.3,366Q318.9,366 318.9,364.5L318.9,361.5L318,361.5Q316.2,361.5 316.2,359.8ZM318.6,346.4A3.9,3.9 0 1 1 326.4,346.4A3.9,3.9 0 1 1 318.6,346.4Z"/>
<path fill="#2a8fc4" stroke="#d8e8f3" stroke-width="1.4" paint-order="stroke" d="M342,359.3L342,353.1Q342,348.4 346.7,348.4L352.1,348.4Q356.8,348.4 356.8,353.1L356.8,359.3Q356.8,361.4 354.7,361.4L353.7,361.4L353.7,364.7Q353.7,366.4 352,366.4L346.8,366.4Q345.1,366.4 345.1,364.7L345.1,361.4L344.1,361.4Q342,361.4 342,359.3ZM345.5,344.8A3.9,3.9 0 1 1 353.3,344.8A3.9,3.9 0 1 1 345.5,344.8Z"/>
<path fill="#1b78b4" stroke="#d8e8f3" stroke-width="1.4" paint-order="stroke" d="M360.8,357.8L360.8,352Q360.8,348 364.8,348L369.2,348Q373.2,348 373.2,352L373.2,357.8Q373.2,359.5 371.5,359.5L370.6,359.5L370.6,362.5Q370.6,364 369.2,364L364.8,364Q363.4,364 363.4,362.5L363.4,359.5L362.5,359.5Q360.8,359.5 360.8,357.8ZM363.1,344.4A3.9,3.9 0 1 1 370.9,344.4A3.9,3.9 0 1 1 363.1,344.4Z"/>
<path fill="#34a3cc" stroke="#d8e8f3" stroke-width="1.4" paint-order="stroke" d="M379.8,361.8L379.8,353.6Q379.8,349.3 384,349.3L388.8,349.3Q393,349.3 393,353.6L393,361.8Q393,363.7 391.2,363.7L390.3,363.7L390.3,367.8Q390.3,369.3 388.7,369.3L384.1,369.3Q382.5,369.3 382.5,367.8L382.5,363.7L381.6,363.7Q379.8,363.7 379.8,361.8ZM382.4,345.6A4,4 0 1 1 390.4,345.6A4,4 0 1 1 382.4,345.6Z"/>
<path fill="#2a8fc4" stroke="#d8e8f3" stroke-width="1.4" paint-order="stroke" d="M403.2,361.8L403.2,353.6Q403.2,349.3 407.4,349.3L412.2,349.3Q416.4,349.3 416.4,353.6L416.4,361.8Q416.4,363.7 414.6,363.7L413.7,363.7L413.7,367.8Q413.7,369.3 412.1,369.3L407.5,369.3Q405.9,369.3 405.9,367.8L405.9,363.7L405,363.7Q403.2,363.7 403.2,361.8ZM405.8,345.6A4,4 0 1 1 413.8,345.6A4,4 0 1 1 405.8,345.6Z"/>
<path fill="#1b78b4" stroke="#d8e8f3" stroke-width="1.4" paint-order="stroke" d="M427.9,360.3L427.9,356Q427.9,352 431.9,352L436.4,352Q440.4,352 440.4,356L440.4,360.3Q440.4,362.1 438.6,362.1L437.7,362.1L437.7,364.5Q437.7,366 436.3,366L431.9,366Q430.5,366 430.5,364.5L430.5,362.1L429.6,362.1Q427.9,362.1 427.9,360.3ZM430.2,348.4A3.9,3.9 0 1 1 438,348.4A3.9,3.9 0 1 1 430.2,348.4Z"/>
<path fill="#34a3cc" stroke="#d8e8f3" stroke-width="1.4" paint-order="stroke" d="M446.6,368.1L446.6,359.4Q446.6,354.4 451.6,354.4L457.2,354.4Q462.2,354.4 462.2,359.4L462.2,368.1Q462.2,370.2 460,370.2L458.9,370.2L458.9,374.6Q458.9,376.4 457.1,376.4L451.7,376.4Q449.9,376.4 449.9,374.6L449.9,370.2L448.8,370.2Q446.6,370.2 446.6,368.1ZM450,350.3A4.4,4.4 0 1 1 458.8,350.3A4.4,4.4 0 1 1 450,350.3Z"/>
<path fill="#1b78b4" stroke="#d8e8f3" stroke-width="1.4" paint-order="stroke" d="M465.3,372.9L465.3,365.7Q465.3,360.7 470.3,360.7L475.9,360.7Q480.9,360.7 480.9,365.7L480.9,372.9Q480.9,375.1 478.7,375.1L477.6,375.1L477.6,378.9Q477.6,380.7 475.8,380.7L470.4,380.7Q468.6,380.7 468.6,378.9L468.6,375.1L467.5,375.1Q465.3,375.1 465.3,372.9ZM468.7,356.6A4.4,4.4 0 1 1 477.5,356.6A4.4,4.4 0 1 1 468.7,356.6Z"/>
<path fill="#16649f" stroke="#e3eff8" stroke-width="2.4" paint-order="stroke" d="M271.4,383L271.4,365.6Q271.4,359 279.2,359L283.1,359Q290.9,359 290.9,365.6L290.9,383ZM276.4,354.7A4.7,4.7 0 1 1 285.8,354.7A4.7,4.7 0 1 1 276.4,354.7Z"/>
<path fill="#125a9a" stroke="#e3eff8" stroke-width="2.4" paint-order="stroke" d="M302.6,386.6L302.6,373.7Q302.6,366.6 311,366.6L315.2,366.6Q323.6,366.6 323.6,373.7L323.6,386.6ZM308.1,362A5,5 0 1 1 318.1,362A5,5 0 1 1 308.1,362Z"/>
<path fill="#125a9a" stroke="#e3eff8" stroke-width="2.4" paint-order="stroke" d="M329.5,387.1L329.5,370.9Q329.5,365.1 336.4,365.1L339.8,365.1Q346.7,365.1 346.7,370.9L346.7,387.1ZM333.1,360.5A5,5 0 1 1 343.1,360.5A5,5 0 1 1 333.1,360.5Z"/>
<path fill="#125a9a" stroke="#e3eff8" stroke-width="2.4" paint-order="stroke" d="M364.1,386.7L364.1,368.7Q364.1,362.7 371.1,362.7L374.6,362.7Q381.6,362.7 381.6,368.7L381.6,386.7ZM367.8,358.1A5,5 0 1 1 377.8,358.1A5,5 0 1 1 367.8,358.1Z"/>
<path fill="#125a9a" stroke="#e3eff8" stroke-width="2.4" paint-order="stroke" d="M389.2,388.5L389.2,375.6Q389.2,368.5 397.6,368.5L401.8,368.5Q410.2,368.5 410.2,375.6L410.2,388.5ZM394.4,363.6A5.3,5.3 0 1 1 405,363.6A5.3,5.3 0 1 1 394.4,363.6Z"/>
<path fill="#125a9a" stroke="#e3eff8" stroke-width="2.4" paint-order="stroke" d="M418.1,386.2L418.1,373.3Q418.1,366.2 426.5,366.2L430.7,366.2Q439.1,366.2 439.1,373.3L439.1,386.2ZM423.3,361.2A5.3,5.3 0 1 1 433.9,361.2A5.3,5.3 0 1 1 423.3,361.2Z"/>
<path fill="#2a8fc4" stroke="#e3eff8" stroke-width="2.4" paint-order="stroke" d="M344.7,389L344.7,383.9Q344.7,377 352.8,377L356.8,377Q364.9,377 364.9,383.9L364.9,389ZM350.4,373A4.4,4.4 0 1 1 359.2,373A4.4,4.4 0 1 1 350.4,373Z"/>
</g>
<path d="M296,431L323.4,476Q327.5,483 338,485.8Q375,502 411,487.5Q422.5,484 427,477.5L454,431Z" fill="url(#fc2)"/>
<path d="M296,431L323.4,476Q327.5,483 338,485.8Q375,502 411,487.5Q422.5,484 427,477.5L454,431Z" fill="url(#fe2)"/>
<g clip-path="url(#cc2)">
<path fill="#1a78b0" d="M323.6,467.6L323.6,459.6Q323.6,455.7 327.5,455.7L331.9,455.7Q335.8,455.7 335.8,459.6L335.8,467.6Q335.8,469.3 334.1,469.3L333.8,469.3L333.8,476.1Q333.8,477.7 332.1,477.7L327.3,477.7Q325.6,477.7 325.6,476.1L325.6,469.3L325.3,469.3Q323.6,469.3 323.6,467.6ZM326.3,451.7A3.4,3.4 0 1 1 333.1,451.7A3.4,3.4 0 1 1 326.3,451.7Z"/>
<path fill="#1a78b0" d="M337.9,474.7L337.9,465.6Q337.9,460.3 343.1,460.3L349.1,460.3Q354.4,460.3 354.4,465.6L354.4,474.7Q354.4,477 352,477L351.5,477L351.5,485.1Q351.5,487.3 349.4,487.3L342.8,487.3Q340.7,487.3 340.7,485.1L340.7,477L340.2,477Q337.9,477 337.9,474.7ZM341.4,455A4.7,4.7 0 1 1 350.8,455A4.7,4.7 0 1 1 341.4,455Z"/>
<path fill="#1a78b0" d="M357.8,468.7L357.8,463Q357.8,459.2 361.6,459.2L365.8,459.2Q369.6,459.2 369.6,463L369.6,468.7Q369.6,470.4 368,470.4L367.6,470.4L367.6,475.6Q367.6,477.2 366.1,477.2L361.3,477.2Q359.8,477.2 359.8,475.6L359.8,470.4L359.4,470.4Q357.8,470.4 357.8,468.7ZM360.1,455A3.6,3.6 0 1 1 367.3,455A3.6,3.6 0 1 1 360.1,455Z"/>
<path fill="#1a78b0" d="M382.4,472.3L382.4,464.2Q382.4,459.9 386.6,459.9L391.4,459.9Q395.6,459.9 395.6,464.2L395.6,472.3Q395.6,474.2 393.8,474.2L393.4,474.2L393.4,481.1Q393.4,482.9 391.6,482.9L386.4,482.9Q384.6,482.9 384.6,481.1L384.6,474.2L384.2,474.2Q382.4,474.2 382.4,472.3ZM384.7,455A4.3,4.3 0 1 1 393.3,455A4.3,4.3 0 1 1 384.7,455Z"/>
<path fill="#1a78b0" d="M398.9,473.4L398.9,464.5Q398.9,459.5 403.9,459.5L409.5,459.5Q414.5,459.5 414.5,464.5L414.5,473.4Q414.5,475.6 412.3,475.6L411.8,475.6L411.8,483.4Q411.8,485.5 409.8,485.5L403.6,485.5Q401.6,485.5 401.6,483.4L401.6,475.6L401.1,475.6Q398.9,475.6 398.9,473.4ZM402.1,454.3A4.6,4.6 0 1 1 411.3,454.3A4.6,4.6 0 1 1 402.1,454.3Z"/>
<path fill="#4db6d4" d="M417.2,464.9L417.2,460Q417.2,456.5 420.7,456.5L424.7,456.5Q428.2,456.5 428.2,460L428.2,464.9Q428.2,466.4 426.7,466.4L426.3,466.4L426.3,471Q426.3,472.5 424.9,472.5L420.5,472.5Q419.1,472.5 419.1,471L419.1,466.4L418.7,466.4Q417.2,466.4 417.2,464.9ZM419.4,452.6A3.3,3.3 0 1 1 426,452.6A3.3,3.3 0 1 1 419.4,452.6Z"/>
<path fill="#1a78b0" stroke="#e4f3f8" stroke-width="3.0" paint-order="stroke" d="M364.2,497.3L364.2,481.5Q364.2,475.3 371.5,475.3L375.1,475.3Q382.4,475.3 382.4,481.5L382.4,497.3ZM367.9,468.7A5.4,5.4 0 1 1 378.7,468.7A5.4,5.4 0 1 1 367.9,468.7Z"/>
</g>
<path d="M245.5,360.5L270.5,422.5Q273.5,429.5 283,433C315,449 430,450 466,434Q476,430 479.5,424L502.5,360.5A128.5,24.5 0 0 1 245.5,360.5Z" fill="url(#fb2)"/>
<g clip-path="url(#cb2)">
<polygon points="240,360 264.3,360 304.1,452 240,452" fill="#1c92b0" opacity="1"/>
<polygon points="264.3,360 292.8,360 319.6,452 304.1,452" fill="#3aaabd" opacity="1"/>
<polygon points="292.8,360 313.1,360 340.1,452 319.6,452" fill="#66c4ca" opacity="1"/>
<polygon points="475.8,360 486.8,360 472,445 452.2,445" fill="#2a8cbb" opacity="1"/>
<polygon points="486.8,360 510,360 495,445 472,445" fill="#2085b4" opacity="1"/>
<rect x="245.5" y="360.5" width="257.0" height="87.5" fill="url(#fv2)"/>
<path d="M245.5,360.5L270.5,422.5Q273.5,429.5 283,433C315,449 430,450 466,434Q476,430 479.5,424L502.5,360.5" fill="none" stroke="#8fdde4" stroke-opacity="0.4" stroke-width="3"/>
</g>
<path d="M245.5,360.5A128.5,24.5 0 0 0 502.5,360.5" fill="none" stroke="#ffffff" stroke-width="3.2"/>
<path d="M369.9,495.5L381.9,495.5L381.9,504.5L391.6,504.5L376.6,516.8L360.1,504.5L369.9,504.5Z" fill="url(#ar2)"/>
</g>
<text x="112.5" y="424.6" font-size="16.5" font-weight="700" fill="#1b2f6d" textLength="132" lengthAdjust="spacingAndGlyphs">Filtro de Entrevista</text>
<rect x="110.4" y="431.2" width="138.0" height="1.3" fill="#5b7bb0"/>
<text y="453.3" font-size="16.2" font-weight="700"><tspan x="114.0" fill="#1d4c85" textLength="33.5" lengthAdjust="spacingAndGlyphs">50%</tspan><tspan x="152.5" fill="#1a7aa9" textLength="61" lengthAdjust="spacingAndGlyphs">Descarte</tspan></text>
<g id="banner3">
<rect x="250" y="521.3" width="362" height="39.2" fill="url(#b3)"/>
<rect x="250" y="521.3" width="362" height="1.6" fill="url(#bedge3)"/>
<rect x="250" y="559.3" width="362" height="1.2" fill="url(#bedge3)"/>
<g clip-path="url(#cban3)"><ellipse cx="245" cy="540" rx="44" ry="42" fill="#5cb850"/></g>
<text x="311" y="551.1" font-size="25" font-weight="700" fill="#126a2a" opacity="0.55" textLength="102.8" lengthAdjust="spacingAndGlyphs" transform="translate(0.8,1.3)">Decisión</text>
<text x="311" y="551.1" font-size="25" font-weight="700" fill="#ffffff" textLength="102.8" lengthAdjust="spacingAndGlyphs">Decisión</text>
<ellipse cx="245" cy="540" rx="30.9" ry="28.6" fill="url(#ck)" stroke="#e0f3d8" stroke-width="2.6" paint-order="stroke"/>
<polygon points="226.3,543.5 239.7,556.6 266.1,528.2 262.0,524.4 239.5,548.6 230.2,539.5" fill="#0f6a35" stroke="#0f6a35" stroke-width="2.6" stroke-linejoin="round" opacity="0.6" transform="translate(0.2,1.5)"/>
<polygon points="226.3,543.5 239.7,556.6 266.1,528.2 262.0,524.4 239.5,548.6 230.2,539.5" fill="#ffffff" stroke="#ffffff" stroke-width="2.6" stroke-linejoin="round"/>
</g>
<g id="funnel3">
<ellipse cx="374.3" cy="588.5" rx="94" ry="20.5" fill="#ffffff" stroke="#eef3f8" stroke-width="1"/>
<ellipse cx="374.3" cy="588.1" rx="93.2" ry="19.9" fill="url(#fi3)"/>
<ellipse cx="374.3" cy="588.1" rx="93.2" ry="19.9" fill="url(#fs3)"/>
<g clip-path="url(#ci3)">
<path fill="#2b9a50" stroke="#e6f3e2" stroke-width="1.2" paint-order="stroke" d="M312.9,606.6L312.9,592.9Q312.9,586.6 320.2,586.6L324,586.6Q331.4,586.6 331.4,592.9L331.4,606.6ZM317,581.1A5.1,5.1 0 1 1 327.2,581.1A5.1,5.1 0 1 1 317,581.1Z"/>
<path fill="#2e9c5c" stroke="#e6f3e2" stroke-width="1.2" paint-order="stroke" d="M336.1,606.9L336.1,587.9Q336.1,582.9 341.9,582.9L344.9,582.9Q350.7,582.9 350.7,587.9L350.7,606.9ZM338.5,577.6A4.9,4.9 0 1 1 348.3,577.6A4.9,4.9 0 1 1 338.5,577.6Z"/>
<path fill="#1f9248" stroke="#e6f3e2" stroke-width="1.2" paint-order="stroke" d="M357.1,608.4L357.1,593.7Q357.1,586.4 365.7,586.4L369.9,586.4Q378.6,586.4 378.6,593.7L378.6,608.4ZM362.3,580.5A5.5,5.5 0 1 1 373.3,580.5A5.5,5.5 0 1 1 362.3,580.5Z"/>
<path fill="#1f9248" stroke="#e6f3e2" stroke-width="1.2" paint-order="stroke" d="M387.5,606.7L387.5,588.5Q387.5,582.7 394.4,582.7L397.8,582.7Q404.7,582.7 404.7,588.5L404.7,606.7ZM391,577.2A5.1,5.1 0 1 1 401.2,577.2A5.1,5.1 0 1 1 391,577.2Z"/>
<path fill="#6ab82e" stroke="#e6f3e2" stroke-width="1.2" paint-order="stroke" d="M410.9,606L410.9,592.5Q410.9,586 418.6,586L422.4,586Q430.1,586 430.1,592.5L430.1,606ZM415.4,580.5A5.1,5.1 0 1 1 425.6,580.5A5.1,5.1 0 1 1 415.4,580.5Z"/>
</g>
<path d="M321,646L342.5,683.75Q345.5,690 358,694Q377,701.6 398,693.5Q409,690 412.2,683.75L429,646Z" fill="url(#fc3)"/>
<path d="M321,646L342.5,683.75Q345.5,690 358,694Q377,701.6 398,693.5Q409,690 412.2,683.75L429,646Z" fill="url(#fe3)"/>
<g clip-path="url(#cc3)">
<path fill="#3a9f5a" d="M351.1,682L351.1,674.2Q351.1,669.7 355.6,669.7L360.6,669.7Q365.1,669.7 365.1,674.2L365.1,682Q365.1,684 363.1,684L362.7,684L362.7,690.9Q362.7,692.7 360.9,692.7L355.3,692.7Q353.5,692.7 353.5,690.9L353.5,684L353.1,684Q351.1,684 351.1,682ZM353.9,665.8A4.2,4.2 0 1 1 362.3,665.8A4.2,4.2 0 1 1 353.9,665.8Z"/>
<path fill="#4fab7c" d="M393.1,681.2L393.1,673.7Q393.1,669.4 397.3,669.4L402.1,669.4Q406.3,669.4 406.3,673.7L406.3,681.2Q406.3,683 404.5,683L404.1,683L404.1,689.6Q404.1,691.4 402.3,691.4L397.1,691.4Q395.3,691.4 395.3,689.6L395.3,683L394.9,683Q393.1,683 393.1,681.2ZM395.8,665.8A3.9,3.9 0 1 1 403.6,665.8A3.9,3.9 0 1 1 395.8,665.8Z"/>
<path fill="#1f8a3f" d="M371.4,696.3L371.4,680.3Q371.4,674.3 378.4,674.3L381.9,674.3Q388.9,674.3 388.9,680.3L388.9,696.3ZM374.9,667.7A5.2,5.2 0 1 1 385.3,667.7A5.2,5.2 0 1 1 374.9,667.7Z"/>
</g>
<path d="M280.3,588.5L301.9,640Q304.5,646 313,649.5C335,659 415,660.5 439,649.4Q446,646 448.1,641.6L468.3,588.5A94,20.5 0 0 1 280.3,588.5Z" fill="url(#fb3)"/>
<g clip-path="url(#cb3)">
<polygon points="275,588 298,588 320.3,662 275,662" fill="#3b9b3a" opacity="1"/>
<polygon points="298,588 313.5,588 337.6,662 320.3,662" fill="#5bb547" opacity="1"/>
<polygon points="313.5,588 333.7,588 351,662 337.6,662" fill="#86ce64" opacity="1"/>
<polygon points="437.7,588 446.4,588 435.7,660 419,660" fill="#4fae4c" opacity="1"/>
<polygon points="446.4,588 475,588 460,660 435.7,660" fill="#30983f" opacity="1"/>
<rect x="280.3" y="588.5" width="188" height="71.5" fill="url(#fv3)"/>
<path d="M280.3,588.5L301.9,640Q304.5,646 313,649.5C335,659 415,660.5 439,649.4Q446,646 448.1,641.6L468.3,588.5" fill="none" stroke="#a8e89a" stroke-opacity="0.4" stroke-width="3"/>
</g>
<path d="M280.3,588.5A94,20.5 0 0 0 468.3,588.5" fill="none" stroke="#ffffff" stroke-width="3.2"/>
<path d="M374.3,696.5L383.6,696.5L383.6,707.2L393.8,707.2L379.2,718.2L364.1,707.2L374.3,707.2Z" fill="url(#ar3)"/>
<path fill="#3fa23a" stroke="#36963a" stroke-width="0.8" paint-order="stroke" d="M345.9,749.9L345.9,738.4Q345.9,731.9 352.3,731.9L359.7,731.9Q366.1,731.9 366.1,738.4L366.1,749.9Q366.1,752.8 363.3,752.8L362.7,752.8L362.7,760.8Q362.7,763.5 360,763.5L352,763.5Q349.3,763.5 349.3,760.8L349.3,752.8L348.7,752.8Q345.9,752.8 345.9,749.9ZM350.1,723.4A5.9,6.8 0 1 1 361.9,723.4A5.9,6.8 0 1 1 350.1,723.4Z"/>
<path fill="#3fa23a" stroke="#36963a" stroke-width="0.8" paint-order="stroke" d="M391.9,749.9L391.9,738.4Q391.9,731.9 398.3,731.9L405.7,731.9Q412.1,731.9 412.1,738.4L412.1,749.9Q412.1,752.8 409.3,752.8L408.7,752.8L408.7,760.8Q408.7,763.5 406,763.5L398,763.5Q395.3,763.5 395.3,760.8L395.3,752.8L394.7,752.8Q391.9,752.8 391.9,749.9ZM396.1,723.4A5.9,6.8 0 1 1 407.9,723.4A5.9,6.8 0 1 1 396.1,723.4Z"/>
<path fill="#3fa23a" stroke="#e9f6e6" stroke-width="1.6" paint-order="stroke" d="M367.8,760.6L367.8,746.3Q367.8,739 375.1,739L383.3,739Q390.6,739 390.6,746.3L390.6,760.6Q390.6,763.8 387.4,763.8L386.7,763.8L386.7,772.5Q386.7,775.5 383.7,775.5L374.7,775.5Q371.7,775.5 371.7,772.5L371.7,763.8L371,763.8Q367.8,763.8 367.8,760.6ZM373,730.6A6.2,7.2 0 1 1 385.4,730.6A6.2,7.2 0 1 1 373,730.6Z"/>
</g>
<text x="176.8" y="635.2" font-size="16.5" font-weight="700" fill="#1b2f6d" textLength="80" lengthAdjust="spacingAndGlyphs">Filtro Final</text>
<rect x="172" y="641.1999999999999" width="100.30000000000001" height="1.3" fill="#5b7bb0"/>
<text y="661.7" font-size="16.2" font-weight="700"><tspan x="178.3" fill="#1d4c85" textLength="31.5" lengthAdjust="spacingAndGlyphs">70%</tspan><tspan x="212.5" fill="#1a7aa9" textLength="58" lengthAdjust="spacingAndGlyphs">Descarte</tspan></text>
</svg>
</body>
</html>
